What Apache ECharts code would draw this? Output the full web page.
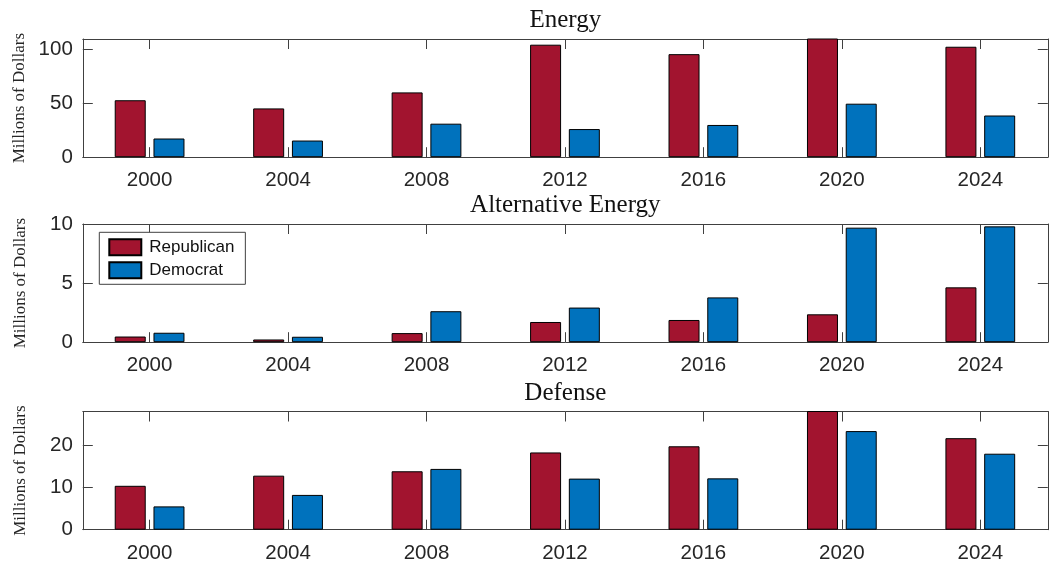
<!DOCTYPE html>
<html>
<head>
<meta charset="utf-8">
<script src="https://cdn.jsdelivr.net/npm/echarts@6/dist/echarts.min.js"></script>
<style>
html,body{margin:0;padding:0;background:#fff;}
#c{width:1059px;height:564px;}
</style>
</head>
<body>
<div id="c"></div>
<script>
const years = [2000, 2004, 2008, 2012, 2016, 2020, 2024];
const panelTitles = ['Energy', 'Alternative Energy', 'Defense'];
const energyRep = [53.0, 45.4, 60.3, 104.7, 95.9, 113, 102.8];
const energyDem = [17.4, 15.5, 31.2, 26.2, 30.0, 49.8, 38.8];
const altRep = [0.48, 0.23, 0.77, 1.71, 1.88, 2.36, 4.64];
const altDem = [0.80, 0.46, 2.62, 2.93, 3.79, 9.69, 9.80];
const defRep = [10.4, 12.8, 13.84, 18.3, 19.76, 29, 21.68];
const defDem = [5.52, 8.24, 14.4, 12.1, 12.16, 23.36, 18.0];
const yMax = [110, 10, 28];
const yInterval = [50, 5, 10];
const seriesNames = ['Republican', 'Democrat'];

const repColor = '#A2142F';
const demColor = '#0072BD';
const axisColor = '#404040';
const labelColor = '#262626';
const sans = '"Liberation Sans", Arial, Helvetica, sans-serif';
const serif = '"Liberation Serif", "Times New Roman", serif';

const gridTops = [39, 224, 411.5];
const gridH = 118.2;
const gridLeft = 82.8;
const gridRight = 11.2;

const xMin = 1998.07, xMax = 2025.95;

const chart = echarts.init(document.getElementById('c'), null, {renderer: 'canvas'});

const grids = [], xAxes = [], yAxes = [], series = [], titles = [];
const dataSets = [[energyRep, energyDem], [altRep, altDem], [defRep, defDem]];

for (let p = 0; p < 3; p++) {
  grids.push({left: gridLeft, right: gridRight, top: gridTops[p], height: gridH, containLabel: false, outerBoundsMode: 'none'});
  titles.push({
    text: panelTitles[p], left: gridLeft + (1059 - gridLeft - gridRight) / 2, textAlign: 'center',
    top: gridTops[p] - 31, padding: 0,
    textStyle: {fontFamily: serif, fontSize: 25, fontWeight: 'normal', color: '#111'}
  });
  const common = {
    type: 'value', min: xMin, max: xMax, gridIndex: p,
    axisLine: {show: true, onZero: false, lineStyle: {color: axisColor, width: 1}},
    splitLine: {show: false}
  };
  xAxes.push(Object.assign({}, common, {
    position: 'bottom',
    axisTick: {show: true, inside: true, length: 10, customValues: years, lineStyle: {color: axisColor}},
    axisLabel: {show: true, customValues: years, margin: 13, fontFamily: sans, fontSize: 20.5, color: labelColor,
      formatter: v => String(v)}
  }));
  xAxes.push(Object.assign({}, common, {
    position: 'top',
    axisTick: {show: true, inside: true, length: 10, customValues: years, lineStyle: {color: axisColor}},
    axisLabel: {show: false}
  }));
  const ycommon = {
    type: 'value', min: 0, max: yMax[p], interval: yInterval[p], gridIndex: p,
    axisLine: {show: true, onZero: false, lineStyle: {color: axisColor, width: 1}},
    axisTick: {show: true, inside: true, length: 10, lineStyle: {color: axisColor}},
    splitLine: {show: false}
  };
  yAxes.push(Object.assign({}, ycommon, {
    position: 'left',
    name: 'Millions of Dollars', nameLocation: 'middle', nameGap: 54,
    nameTextStyle: {fontFamily: serif, fontSize: 17, color: labelColor},
    axisLabel: {show: true, margin: 10, fontFamily: sans, fontSize: 20.5, color: labelColor, showMaxLabel: yMax[p] % yInterval[p] === 0}
  }));
  yAxes.push(Object.assign({}, ycommon, {
    position: 'right',
    axisLabel: {show: false}
  }));
  const [rep, dem] = dataSets[p];
  [rep, dem].forEach((arr, k) => {
    series.push({
      name: seriesNames[k], type: 'bar',
      xAxisIndex: p * 2, yAxisIndex: p * 2,
      barWidth: 31, barGap: '25%', clip: true,
      itemStyle: {color: k === 0 ? repColor : demColor, borderColor: '#000', borderWidth: 1},
      emphasis: {disabled: true},
      data: years.map((y, i) => [y, arr[i]])
    });
  });
}

chart.setOption({
  animation: false,
  backgroundColor: '#fff',
  title: titles,
  legend: {
    data: seriesNames, orient: 'vertical', left: 99.3, top: 232.3,
    itemWidth: 32, itemHeight: 16, itemGap: 5, icon: 'rect',
    padding: [6, 11, 5, 9],
    backgroundColor: '#fff', borderColor: axisColor, borderWidth: 1, borderRadius: 0,
    textStyle: {fontFamily: sans, fontSize: 17, lineHeight: 16, color: '#111', padding: [0, 0, 0, 3]},
    selectedMode: false
  },
  grid: grids, xAxis: xAxes, yAxis: yAxes, series: series
});
</script>
</body>
</html>
